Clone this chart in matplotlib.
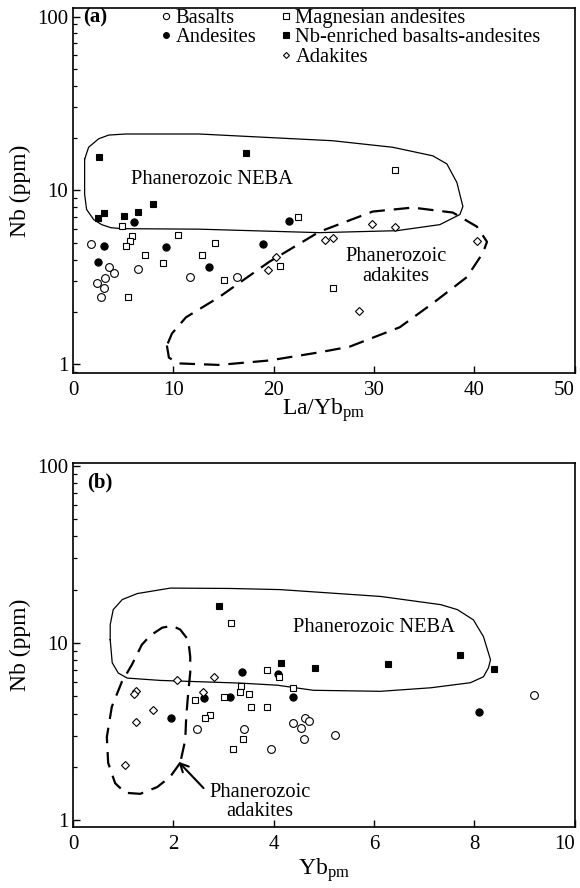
import numpy as np
import matplotlib
matplotlib.use('Agg')
import matplotlib.pyplot as plt
from matplotlib.lines import Line2D
from matplotlib.ticker import FixedLocator, FixedFormatter, LogLocator, NullFormatter

plt.rcParams['font.family'] = ['Liberation Serif', 'DejaVu Serif']
plt.rcParams['mathtext.fontset'] = 'custom'
plt.rcParams['mathtext.rm'] = 'Liberation Serif'
plt.rcParams['mathtext.it'] = 'Liberation Serif:italic'
plt.rcParams['mathtext.bf'] = 'Liberation Serif:bold'

# ---------------- Panel (a): Nb vs La/Yb_pm ----------------
a_bas_x = [1.8, 3.55, 4.05, 3.2, 2.35, 3.1, 2.8, 6.5, 11.65, 16.3]
a_bas_y = [4.91, 3.64, 3.36, 3.14, 2.92, 2.73, 2.42, 3.52, 3.16, 3.17]
a_and_x = [6.05, 21.5, 3.1, 9.3, 18.9, 2.5, 13.5]
a_and_y = [6.55, 6.7, 4.8, 4.75, 4.91, 3.89, 3.64]
a_mga_x = [4.9, 22.45, 32.05, 5.9, 5.7, 5.3, 10.5, 14.1, 7.15, 12.8, 9.0, 20.6, 15.05, 5.45, 25.9]
a_mga_y = [6.27, 7.0, 13.06, 5.43, 5.08, 4.8, 5.56, 5.01, 4.22, 4.23, 3.81, 3.69, 3.05, 2.42, 2.75]
a_neb_x = [2.6, 17.2, 2.5, 3.1, 5.1, 6.5, 7.95]
a_neb_y = [15.6, 16.4, 6.95, 7.36, 7.1, 7.55, 8.37]
a_adk_x = [20.2, 19.45, 25.15, 25.95, 29.8, 32.1, 40.3, 28.45]
a_adk_y = [4.13, 3.48, 5.2, 5.32, 6.38, 6.16, 5.13, 2.02]

# field outlines (a)
a_neba_x = [1.15, 1.15, 1.35, 2.05, 2.85, 3.75, 4.85, 12.55, 24.55, 32.25, 36.55, 38.55,
            38.85, 38.25, 37.25, 35.85, 31.85, 25.85, 12.55, 5.25, 3.55, 2.55, 1.55, 1.15]
a_neba_y = [15.1, 9.48, 7.76, 6.79, 6.35, 6.1, 6.02, 5.98, 5.71, 5.86, 6.35, 7.26,
            8.07, 11.1, 14.2, 15.8, 17.7, 19.3, 21.1, 21.1, 20.8, 19.8, 17.7, 15.1]
a_adak_x = [9.35, 9.55, 10.55, 14.55, 19.55, 24.55, 27.55, 32.55, 35.85, 39.25, 40.85, 41.25,
            40.25, 37.85, 33.85, 29.85, 24.55, 19.55, 14.55, 11.25, 9.85, 9.35]
a_adak_y = [1.28, 1.09, 1.01, 0.99, 1.05, 1.17, 1.26, 1.63, 2.24, 3.17, 4.37, 5.06,
            6.18, 7.45, 7.96, 7.55, 5.78, 3.88, 2.43, 1.86, 1.50, 1.28]

# ---------------- Panel (b): Nb vs Yb_pm ----------------
b_bas_x = [2.47, 3.4, 3.95, 4.38, 4.54, 4.63, 4.7, 4.61, 5.22, 9.19]
b_bas_y = [3.28, 3.28, 2.54, 3.53, 3.31, 3.8, 3.64, 2.87, 3.03, 5.1]
b_and_x = [3.37, 4.09, 4.38, 2.6, 3.13, 1.95, 8.1]
b_and_y = [6.82, 6.68, 4.93, 4.89, 4.99, 3.77, 4.1]
b_mga_x = [3.15, 3.87, 4.11, 4.38, 2.44, 3.0, 3.35, 3.5, 3.33, 3.55, 3.87, 2.72, 2.62, 3.38, 3.18]
b_mga_y = [12.97, 7.06, 6.42, 5.57, 4.78, 4.93, 5.69, 5.15, 5.26, 4.38, 4.38, 3.94, 3.77, 2.87, 2.53]
b_neb_x = [2.91, 4.15, 4.82, 6.27, 7.72, 8.38]
b_neb_y = [16.1, 7.71, 7.22, 7.61, 8.59, 7.13]
b_adk_x = [2.08, 2.8, 2.58, 1.25, 1.22, 1.59, 1.26, 1.04]
b_adk_y = [6.15, 6.43, 5.28, 5.33, 5.15, 4.2, 3.58, 2.05]

b_neba_x = [0.74, 0.74, 0.80, 0.98, 1.28, 1.94, 3.13, 4.13, 6.13, 7.33, 7.66, 7.98, 8.18,
            8.32, 8.28, 8.18, 7.92, 7.13, 6.13, 4.79, 4.07, 3.33, 1.74, 1.08, 0.90, 0.78, 0.74]
b_neba_y = [10.44, 12.68, 15.42, 17.57, 19.0, 20.4, 20.3, 20.0, 18.3, 16.45, 15.42, 13.5, 10.85,
            8.05, 7.25, 6.45, 5.97, 5.59, 5.34, 5.41, 5.78, 5.94, 6.15, 6.34, 6.77, 7.74, 10.44]
b_adak_x = [2.136, 1.936, 1.677, 1.337, 1.038, 0.838, 0.699, 0.673, 0.772, 0.972, 1.172, 1.371,
            1.537, 1.776, 1.976, 2.136, 2.295, 2.335, 2.335, 2.295, 2.255, 2.236, 2.136]
b_adak_y = [2.11, 1.76, 1.54, 1.41, 1.43, 1.62, 2.11, 2.95, 4.37, 6.04, 7.54, 9.78,
            11.0, 12.2, 12.5, 11.9, 10.4, 8.37, 6.8, 5.24, 3.83, 2.84, 2.11]

labels = ['Basalts', 'Andesites', 'Magnesian andesites', 'Nb-enriched basalts-andesites', 'Adakites']
styles = [dict(marker='o', mfc='white', mec='black', ms=5.6, mew=0.8),
          dict(marker='o', mfc='black', mec='black', ms=5.2, mew=0.8),
          dict(marker='s', mfc='white', mec='black', ms=5.0, mew=0.8),
          dict(marker='s', mfc='black', mec='black', ms=5.0, mew=0.8),
          dict(marker='D', mfc='white', mec='black', ms=3.8, mew=0.8)]

TXT = 14.75

fig = plt.figure(figsize=(5.8, 8.88), dpi=100)
axa = fig.add_axes([0.126, 0.580, 0.865, 0.411])
axb = fig.add_axes([0.126, 0.069, 0.865, 0.410])

def style_axes(ax, xmax, xstep, ylim):
    ax.set_yscale('log')
    ax.set_xlim(0, xmax)
    ax.set_ylim(*ylim)
    xt = np.arange(0, xmax + 0.01, xstep)
    ax.xaxis.set_major_locator(FixedLocator(xt))
    ax.xaxis.set_major_formatter(FixedFormatter(['%g' % v for v in xt]))
    ax.yaxis.set_major_locator(FixedLocator([1, 10, 100]))
    ax.yaxis.set_major_formatter(FixedFormatter(['1', '10', '100']))
    ax.yaxis.set_minor_locator(LogLocator(base=10, subs=np.arange(2, 10)))
    ax.yaxis.set_minor_formatter(NullFormatter())
    ax.tick_params(axis='both', which='major', direction='in', length=5, width=1.0,
                   labelsize=15, top=False, right=False)
    ax.tick_params(axis='x', which='major', pad=6)
    ax.tick_params(axis='y', which='minor', direction='in', length=3, width=0.9, right=False)
    for s in ax.spines.values():
        s.set_linewidth(1.2)

style_axes(axa, 50, 10, (0.89, 112))
style_axes(axb, 10, 2, (0.92, 104))

groups_a = [(a_bas_x, a_bas_y), (a_and_x, a_and_y), (a_mga_x, a_mga_y), (a_neb_x, a_neb_y), (a_adk_x, a_adk_y)]
groups_b = [(b_bas_x, b_bas_y), (b_and_x, b_and_y), (b_mga_x, b_mga_y), (b_neb_x, b_neb_y), (b_adk_x, b_adk_y)]

# outlines
axa.plot(a_neba_x, a_neba_y, color='black', lw=0.9, zorder=2)
axa.plot(a_adak_x, a_adak_y, color='black', lw=1.6, ls=(0, (7, 4)), zorder=2)
axb.plot(b_neba_x, b_neba_y, color='black', lw=0.9, zorder=2)
axb.plot(b_adak_x, b_adak_y, color='black', lw=1.6, ls=(0, (7, 4)), zorder=2)

handles = []
for (gx, gy), lab, st in zip(groups_a, labels, styles):
    h, = axa.plot(gx, gy, ls='none', label=lab, zorder=3, **st)
    handles.append(h)
for (gx, gy), lab, st in zip(groups_b, labels, styles):
    axb.plot(gx, gy, ls='none', label=lab, zorder=3, **st)

blank = Line2D([], [], ls='none', marker=None, label=' ')
leg_handles = [handles[0], handles[1], blank, handles[2], handles[3], handles[4]]
leg = axa.legend(leg_handles, [h.get_label() for h in leg_handles], ncol=2, loc='upper left',
                 bbox_to_anchor=(0.176, 0.998), frameon=False, fontsize=TXT,
                 handlelength=0.45, handletextpad=0.25, columnspacing=1.2,
                 labelspacing=0.0, borderpad=0.0, borderaxespad=0, markerscale=0.8)

# panel texts
axa.text(0.02, 0.975, '(a)', transform=axa.transAxes, fontsize=15, fontweight='bold',
         ha='left', va='center')
axb.text(0.028, 0.945, '(b)', transform=axb.transAxes, fontsize=15, fontweight='bold',
         ha='left', va='center')

axa.text(13.85, 11.6, 'Phanerozoic NEBA', fontsize=TXT, ha='center', va='center')
axa.text(32.2, 3.65, 'Phanerozoic\nadakites', fontsize=TXT, ha='center', va='center',
         linespacing=1.05)
axb.text(6.0, 12.2, 'Phanerozoic NEBA', fontsize=TXT, ha='center', va='center')
axb.text(3.73, 1.27, 'Phanerozoic\nadakites', fontsize=TXT, ha='center', va='center',
         linespacing=1.05)
axb.annotate('', xy=(2.1, 2.14), xytext=(2.6, 1.52),
             arrowprops=dict(arrowstyle='->,head_length=0.6,head_width=0.3', lw=1.5,
                             color='black', shrinkA=0, shrinkB=0))

# axis labels
axa.set_ylabel('Nb (ppm)', fontsize=17, ha='center', va='center')
axa.yaxis.set_label_coords(-0.105, 0.5)
axa.set_xlabel(r'La/Yb$_{\mathrm{pm}}$', fontsize=17, ha='center', va='center')
axa.xaxis.set_label_coords(0.5, -0.101)
axb.set_ylabel('Nb (ppm)', fontsize=17, ha='center', va='center')
axb.yaxis.set_label_coords(-0.105, 0.5)
axb.set_xlabel(r'Yb$_{\mathrm{pm}}$', fontsize=17, ha='center', va='center')
axb.xaxis.set_label_coords(0.5, -0.118)

# keep the last x tick label inside the figure, as in the reference
fig.canvas.draw()
for ax in (axa, axb):
    lbls = ax.get_xticklabels()
    lbls[-1].set_horizontalalignment('right')

fig.savefig('out.png', dpi=100)
